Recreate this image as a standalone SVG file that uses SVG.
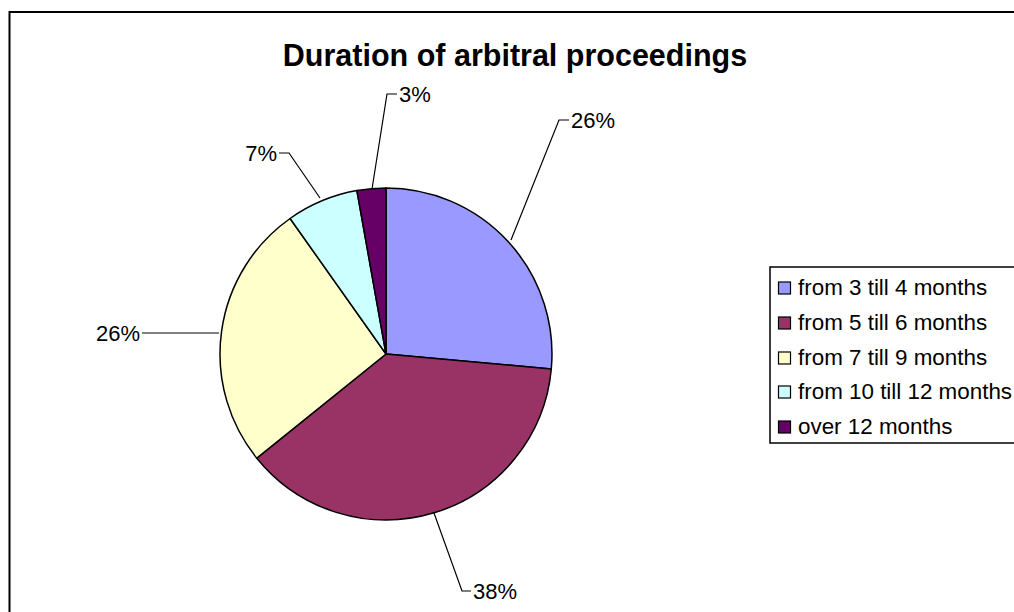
<svg xmlns="http://www.w3.org/2000/svg" width="1014" height="612" viewBox="0 0 1014 612">
<style>
.s{stroke:#000;stroke-width:1.5;stroke-linejoin:round}
.ld{fill:none;stroke:#000;stroke-width:1.2}
.lb{font-family:"Liberation Sans",Arial,sans-serif;font-size:22px;fill:#000}
.lg{font-family:"Liberation Sans",Arial,sans-serif;font-size:22.4px;fill:#000}
.tt{font-family:"Liberation Sans",Arial,sans-serif;font-size:30.5px;font-weight:bold;fill:#000}
.sw{stroke:#000;stroke-width:1.2}
</style>
<rect x="0" y="0" width="1014" height="612" fill="#fff"/>
<rect id="frame" x="9.5" y="12" width="1020" height="620" fill="#fff" stroke="#000" stroke-width="2"/>
<text class="tt" x="515" y="66" text-anchor="middle">Duration of arbitral proceedings</text>
<g id="pie">
<path id="s1" class="s" fill="#9999FF" d="M386,354 L386,188 A166,166 0 0 1 551.3,369 Z"/>
<path id="s2" class="s" fill="#993366" d="M386,354 L551.3,369 A166,166 0 0 1 256.8,458.2 Z"/>
<path id="s3" class="s" fill="#FFFFCC" d="M386,354 L256.8,458.2 A166,166 0 0 1 290.1,218.5 Z"/>
<path id="s4" class="s" fill="#CCFFFF" d="M386,354 L290.1,218.5 A166,166 0 0 1 356.9,190.6 Z"/>
<path id="s5" class="s" fill="#660066" d="M386,354 L356.9,190.6 A166,166 0 0 1 386,188 Z"/>
</g>
<g id="connectors">
<polyline class="ld" points="511,240 559,120 569,120"/>
<polyline class="ld" points="434,513 462,591 471,591"/>
<polyline class="ld" points="219,333 142,333"/>
<polyline class="ld" points="320,198 289,153 279,153"/>
<polyline class="ld" points="372,189 387,94 397,94"/>
</g>
<g id="labels">
<text class="lb" x="571" y="128">26%</text>
<text class="lb" x="473" y="599">38%</text>
<text class="lb" x="140" y="341" text-anchor="end">26%</text>
<text class="lb" x="277" y="161" text-anchor="end">7%</text>
<text class="lb" x="399" y="102">3%</text>
</g>
<g id="legend">
<rect x="770" y="267" width="260" height="176" fill="#fff" stroke="#000" stroke-width="1.5"/>
<rect class="sw" x="778.5" y="282" width="12" height="12" fill="#9999FF"/>
<text class="lg" x="798" y="295">from 3 till 4 months</text>
<rect class="sw" x="778.5" y="317" width="12" height="12" fill="#993366"/>
<text class="lg" x="798" y="330">from 5 till 6 months</text>
<rect class="sw" x="778.5" y="352" width="12" height="12" fill="#FFFFCC"/>
<text class="lg" x="798" y="365">from 7 till 9 months</text>
<rect class="sw" x="778.5" y="386" width="12" height="12" fill="#CCFFFF"/>
<text class="lg" x="798" y="399">from 10 till 12 months</text>
<rect class="sw" x="778.5" y="421" width="12" height="12" fill="#660066"/>
<text class="lg" x="798" y="434">over 12 months</text>
</g>
</svg>
